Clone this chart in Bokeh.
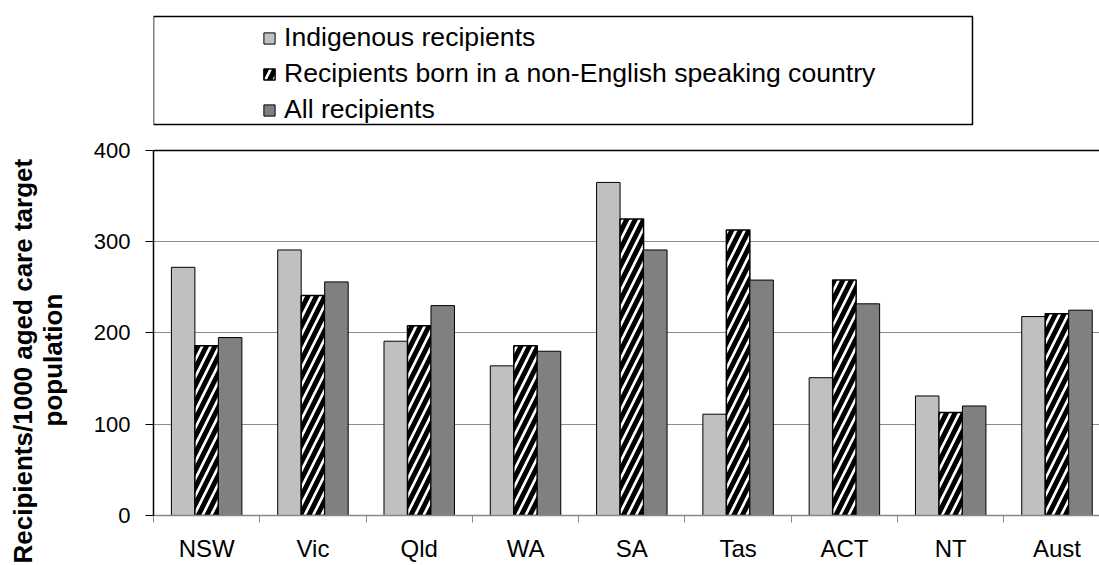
from bokeh.plotting import figure
from bokeh.models import (ColumnDataSource, Range1d, FixedTicker,
                          Legend, LegendItem, BoxAnnotation, Span, Title)
from bokeh.transform import dodge
from bokeh.embed import file_html
from bokeh.resources import INLINE

# ---- data ----
states = ["NSW", "Vic", "Qld", "WA", "SA", "Tas", "ACT", "NT", "Aust"]
indigenous = [272, 291, 191, 164, 365, 111, 151, 131, 218]
non_english = [186, 241, 208, 186, 325, 313, 258, 113, 221]
all_recipients = [195, 256, 230, 180, 291, 258, 232, 120, 225]
series_names = ["Indigenous recipients",
                "Recipients born in a non-English speaking country",
                "All recipients"]
y_ticks = [0, 100, 200, 300, 400]
y_label_lines = ["Recipients/1000  aged care target", "population"]

FONT = "Liberation Sans"
LIGHT = "#c0c0c0"
DARK = "#808080"
BW = 0.221
Y_MAX = 400
Y_VIEW_END = 549.04  # extra room above the plot area for the legend box

centers = [i + 0.5 for i in range(len(states))]
src = ColumnDataSource(dict(x=centers, ind=indigenous, neng=non_english, allr=all_recipients))

p = figure(width=1099, height=565,
           x_range=Range1d(0, 8.9), y_range=Range1d(0, Y_VIEW_END),
           toolbar_location=None, output_backend="svg",
           min_border_left=153, min_border_right=0,
           min_border_top=14, min_border_bottom=50,
           outline_line_color=None)

r1 = p.vbar(x=dodge("x", -BW, range=p.x_range), top="ind", width=BW, source=src,
            fill_color=LIGHT, line_color="black", line_width=1)
r2 = p.vbar(x=dodge("x", 0, range=p.x_range), top="neng", width=BW, source=src,
            fill_color="white", line_color="black", line_width=1.5,
            hatch_pattern="/", hatch_color="black", hatch_weight=5, hatch_scale=17)
r3 = p.vbar(x=dodge("x", BW, range=p.x_range), top="allr", width=BW, source=src,
            fill_color=DARK, line_color="black", line_width=1)

# x axis
xa = p.xaxis[0]
xa.ticker = FixedTicker(ticks=centers, minor_ticks=list(range(len(states) + 1)))
xa.major_label_overrides = {c: s for c, s in zip(centers, states)}
xa.major_tick_line_color = None
xa.minor_tick_line_color = "#888888"
xa.minor_tick_in = 0
xa.minor_tick_out = 7
xa.axis_line_color = "#888888"
xa.axis_line_width = 1.5
xa.major_label_text_font = FONT
xa.major_label_text_font_size = "24px"
xa.major_label_text_color = "black"
xa.major_label_standoff = 12

# y axis
ya = p.yaxis[0]
ya.ticker = FixedTicker(ticks=y_ticks)
ya.bounds = (0, Y_MAX)
ya.minor_tick_line_color = None
ya.major_tick_in = 0
ya.major_tick_out = 8
ya.major_tick_line_color = "black"
ya.axis_line_color = "black"
ya.axis_line_width = 1.5
ya.major_label_text_font = FONT
ya.major_label_text_font_size = "22px"
ya.major_label_text_color = "black"
ya.major_label_standoff = 15

# y axis title as two left titles (inner line first)
t_inner = Title(text=y_label_lines[1], align="left", offset=89, standoff=46,
                text_font=FONT, text_font_size="26px", text_font_style="bold",
                text_color="black")
t_outer = Title(text=y_label_lines[0], align="left", offset=-48, standoff=-50,
                text_font=FONT, text_font_size="26px", text_font_style="bold",
                text_color="black")
p.add_layout(t_inner, "left")
p.add_layout(t_outer, "left")

p.xgrid.visible = False
p.ygrid.grid_line_color = "#8c8c8c"
p.ygrid.grid_line_width = 1.2

# top border of the plot area
p.add_layout(Span(location=Y_MAX, dimension="width", line_color="black", line_width=1.5))

# legend box
box = BoxAnnotation(left=0, right=7.705, bottom=428.5, top=546.8,
                    fill_alpha=0, line_color="black", line_width=1.5, line_alpha=1)
p.add_layout(box)

legend = Legend(items=[LegendItem(label=series_names[0], renderers=[r1]),
                       LegendItem(label=series_names[1], renderers=[r2]),
                       LegendItem(label=series_names[2], renderers=[r3])],
                location=(109, 390), orientation="vertical",
                label_text_font=FONT, label_text_font_size="26.6px",
                label_text_color="black",
                glyph_width=14, glyph_height=14, label_height=30,
                label_standoff=8, spacing=5, padding=0, margin=0,
                border_line_alpha=0, background_fill_alpha=0)
p.add_layout(legend, "center")

open("out.html", "w").write(file_html(p, INLINE))
